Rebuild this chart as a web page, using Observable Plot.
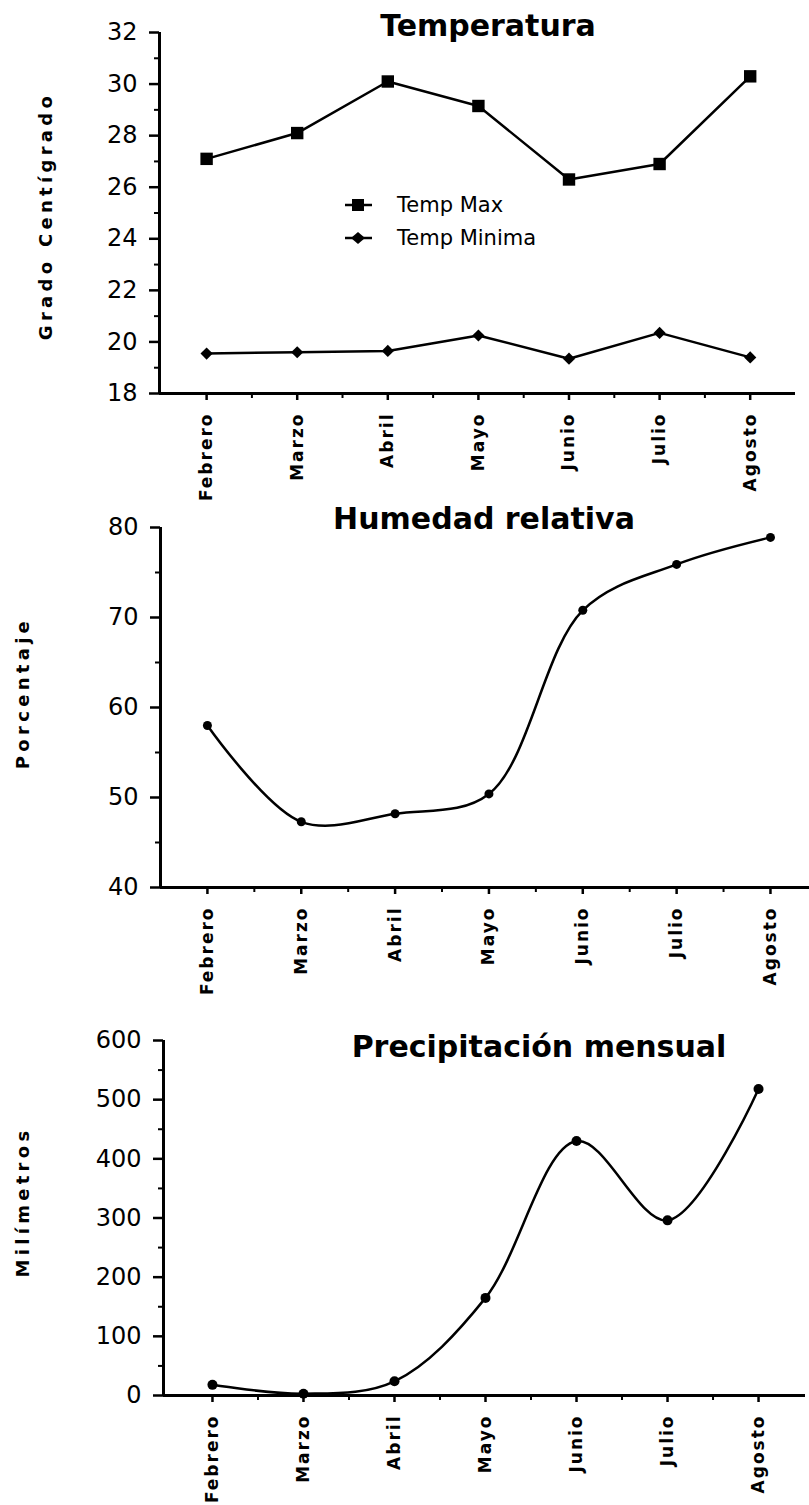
<!DOCTYPE html>
<html><head><meta charset="utf-8">
<script src="https://cdn.jsdelivr.net/npm/d3@7"></script>
<script src="https://cdn.jsdelivr.net/npm/@observablehq/plot@0.6"></script>
<style>
body{margin:0;background:#fff;}
#wrap{position:relative;width:809px;height:1505px;overflow:hidden;font-family:"DejaVu Sans",sans-serif;color:#000;background:#fff;}
.panel{position:absolute;left:0;}
.title{position:absolute;transform:translate(-50%,-50%);font-weight:bold;font-size:30px;white-space:nowrap;}
.ylab{position:absolute;transform:translate(-50%,-50%) rotate(-90deg);font-weight:bold;font-size:18px;letter-spacing:4.3px;white-space:nowrap;}
.legend{position:absolute;font-size:21px;}
g[aria-label="x-axis tick label"] text{letter-spacing:2px;font-weight:bold;}
</style></head><body><div id="wrap"></div>
<script>
// ---- data ----
const months = ["Febrero","Marzo","Abril","Mayo","Junio","Julio","Agosto"];
const tempMax = [27.1, 28.1, 30.1, 29.15, 26.3, 26.9, 30.3];
const tempMin = [19.55, 19.6, 19.65, 20.25, 19.35, 20.35, 19.4];
const humedad = [58, 47.3, 48.2, 50.4, 70.8, 75.9, 78.9];
const precip = [18, 3, 24, 165, 430, 296, 518];

const titles = ["Temperatura", "Humedad relativa", "Precipitación mensual"];
const yLabels = ["Grado Centígrado", "Porcentaje", "Milímetros"];
const legendLabels = ["Temp Max", "Temp Minima"];

const tempTicks = [18,20,22,24,26,28,30,32];
const tempMinor = [19,21,23,25,27,29,31];
const humTicks = [40,50,60,70,80];
const humMinor = [45,55,65,75];
const precTicks = [0,100,200,300,400,500,600];
const precMinor = [50,150,250,350,450,550];

const idx = months.map((m, i) => i);
const halfIdx = idx.slice(0, -1).map(i => i + 0.5);
const rows = (vals) => vals.map((v, i) => ({i, v}));

const wrap = document.getElementById("wrap");

function axes(yMajor, yMinor) {
  return [
    Plot.axisY({ticks: yMajor, tickSize: 10, tickPadding: 12, fontSize: 24, strokeWidth: 2.5, label: null}),
    Plot.axisY({ticks: yMinor, tickSize: 5, tickFormat: () => "", strokeWidth: 2, label: null}),
    Plot.axisX({ticks: idx, tickFormat: i => months[i], tickRotate: -90, tickSize: 7, tickPadding: 12, fontSize: 17, fontWeight: "bold", strokeWidth: 2.5, label: null}),
    Plot.axisX({ticks: halfIdx, tickSize: 5, tickFormat: () => "", strokeWidth: 2, label: null})
  ];
}

function panel(o) {
  const p = Plot.plot({
    width: 809, height: o.height,
    marginTop: o.mt, marginBottom: o.mb, marginLeft: o.ml, marginRight: o.mr,
    x: {type: "linear", domain: o.xdom, label: null},
    y: {domain: o.ydom, label: null},
    style: {background: "transparent", color: "black", fontFamily: "DejaVu Sans, sans-serif", overflow: "visible"},
    marks: [
      ...axes(o.yMajor, o.yMinor),
      Plot.ruleY([o.ydom[0]], {strokeWidth: 3}),
      Plot.ruleX([o.xdom[0]], {strokeWidth: 3}),
      ...o.marks
    ]
  });
  p.classList.add("panel");
  p.style.top = o.top + "px";
  wrap.appendChild(p);
}

function addDiv(cls, text, x, y) {
  const d = document.createElement("div");
  d.className = cls;
  d.textContent = text;
  d.style.left = x + "px";
  d.style.top = y + "px";
  wrap.appendChild(d);
  return d;
}

// Panel 1: Temperatura
panel({
  top: 0, height: 480, mt: 32, mb: 87, ml: 159, mr: 14,
  xdom: [-0.52, 6.5], ydom: [18, 32], yMajor: tempTicks, yMinor: tempMinor,
  marks: [
    Plot.line(rows(tempMax), {x: "i", y: "v", stroke: "black", strokeWidth: 2.5}),
    Plot.dot(rows(tempMax), {x: "i", y: "v", symbol: "square", r: 7, fill: "black"}),
    Plot.line(rows(tempMin), {x: "i", y: "v", stroke: "black", strokeWidth: 2.5}),
    Plot.dot(rows(tempMin), {x: "i", y: "v", symbol: "diamond2", r: 5.5, fill: "black"})
  ]
});

// Panel 2: Humedad relativa
panel({
  top: 480, height: 470, mt: 47, mb: 63, ml: 160, mr: 0,
  xdom: [-0.5, 6.416], ydom: [40, 80], yMajor: humTicks, yMinor: humMinor,
  marks: [
    Plot.line(rows(humedad), {x: "i", y: "v", curve: "catmull-rom", stroke: "black", strokeWidth: 2.5}),
    Plot.dot(rows(humedad), {x: "i", y: "v", r: 4.5, fill: "black"})
  ]
});

// Panel 3: Precipitación mensual
panel({
  top: 950, height: 555, mt: 90, mb: 110, ml: 163, mr: 4,
  xdom: [-0.538, 6.516], ydom: [0, 600], yMajor: precTicks, yMinor: precMinor,
  marks: [
    Plot.line(rows(precip), {x: "i", y: "v", curve: "catmull-rom", stroke: "black", strokeWidth: 2.5}),
    Plot.dot(rows(precip), {x: "i", y: "v", r: 5, fill: "black"})
  ]
});

// titles and y labels
addDiv("title", titles[0], 488, 25);
addDiv("title", titles[1], 484, 518);
addDiv("title", titles[2], 539, 1046);
addDiv("ylab", yLabels[0], 45, 216);
addDiv("ylab", yLabels[1], 22, 693);
addDiv("ylab", yLabels[2], 22, 1202);

// legend
const leg = document.createElement("div");
leg.className = "legend";
leg.style.left = "340px"; leg.style.top = "190px";
leg.innerHTML = `
<svg width="240" height="60" style="overflow:visible">
  <line x1="5" y1="15" x2="32" y2="15" stroke="black" stroke-width="2.5"/>
  <rect x="12" y="9" width="12" height="12" fill="black"/>
  <text x="57" y="22" font-size="21" font-family="DejaVu Sans">${legendLabels[0]}</text>
  <line x1="5" y1="48" x2="32" y2="48" stroke="black" stroke-width="2.5"/>
  <path d="M18,42 L25,48 L18,54 L11,48 Z" fill="black"/>
  <text x="57" y="55" font-size="21" font-family="DejaVu Sans">${legendLabels[1]}</text>
</svg>`;
wrap.appendChild(leg);
</script>
</body></html>
